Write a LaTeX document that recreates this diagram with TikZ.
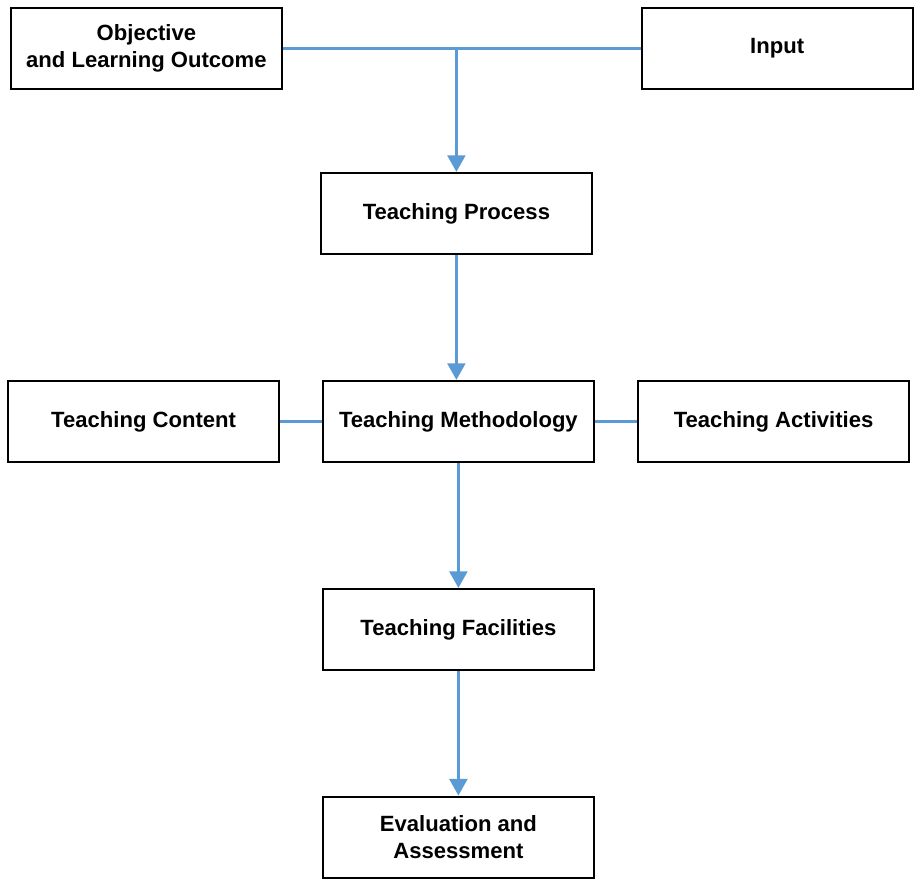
\documentclass[tikz,border=0pt]{standalone}
\usepackage{fontspec}
\setmainfont{Liberation Sans}
\usepackage{xcolor}
\usepackage{tikz}
\usetikzlibrary{arrows.meta, positioning, calc}
\definecolor{flowblue}{HTML}{5B9BD5}

\begin{document}
\begin{tikzpicture}[
			stage/.style={rectangle, draw=black, fill=white, line width=1.5pt, minimum width=6.775cm, minimum height=2.025cm, align=center, font=\fontsize{15.7}{19.2}\selectfont\bfseries, inner sep=0pt},
			flow/.style={-{Triangle[width=0.44cm, length=0.42cm]}, line width=2.6pt, color=flowblue},
			link/.style={line width=2.6pt, color=flowblue}
			]
			\useasboundingbox (0, 0) rectangle (22.9, -22.125);
			
			% --- Top row ---
			\node[stage] (objective) at (3.66, -1.21) {Objective\\and Learning Outcome};
			\node[stage] (input) at (19.43, -1.21) {Input};
			
			% --- Middle column ---
			\node[stage] (process) at (11.41, -5.34) {Teaching Process};
			\node[stage] (method) at (11.46, -10.54) {Teaching Methodology};
			\node[stage] (content) at (3.59, -10.54) {Teaching Content};
			\node[stage] (activities) at (19.34, -10.54) {Teaching Activities};
			\node[stage] (facilities) at (11.46, -15.74) {Teaching Facilities};
			\node[stage] (evaluation) at (11.46, -20.93) {Evaluation and\\Assessment};
			
			% --- Connectors ---
			\coordinate (join) at (process.north |- objective.east);
			\draw[link] (objective.east) -- (input.west);
			\draw[flow] (join) -- (process.north);
			\draw[flow] (process) -- (process |- method.north);
			\draw[link] (content) -- (method);
			\draw[link] (method) -- (activities);
			\draw[flow] (method) -- (facilities);
			\draw[flow] (facilities) -- (evaluation);
			
\end{tikzpicture}
\end{document}
